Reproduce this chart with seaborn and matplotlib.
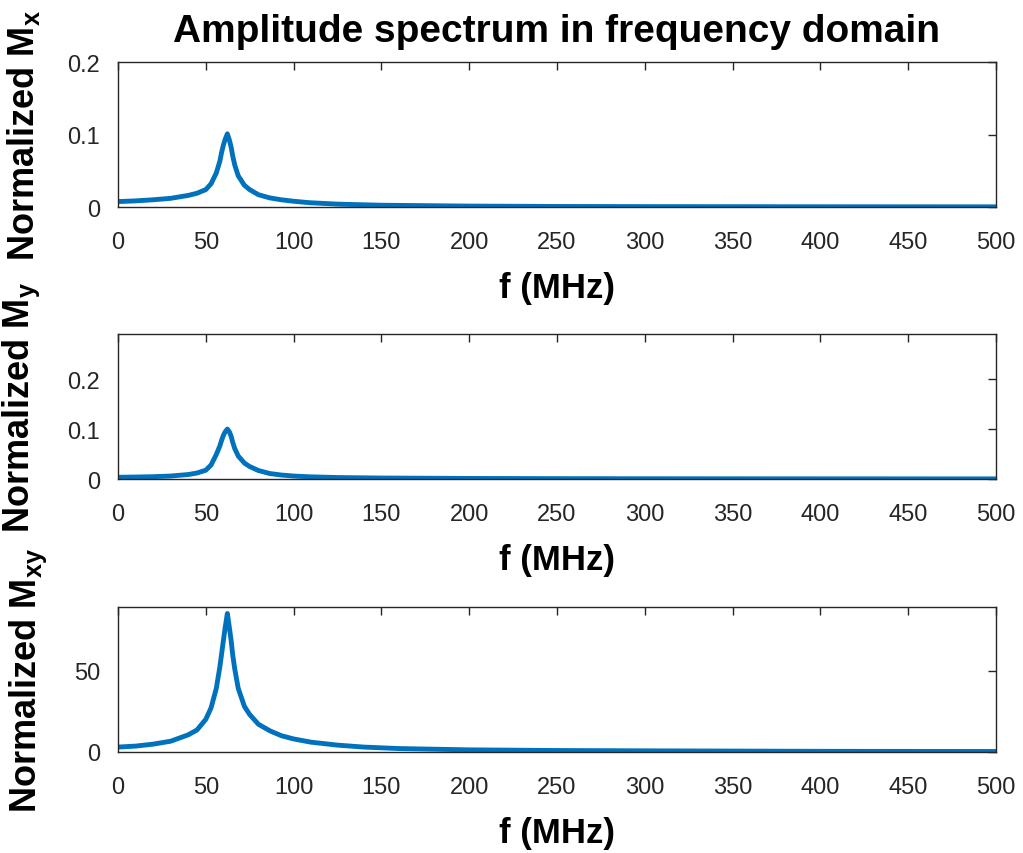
import matplotlib
matplotlib.use("Agg")
import matplotlib.pyplot as plt
import seaborn as sns
import pandas as pd

# Frequency samples (MHz) and normalized amplitudes for each component
freq_x = [0, 10, 20, 30, 40, 45, 50, 53, 56, 58, 59, 60, 61, 62.3, 63.5, 64.5, 65.3, 66.5,
          68.5, 72, 75, 80, 86.5, 93, 100, 109, 125, 150, 200, 250, 300, 400, 500]
mag_x = [0.0075, 0.0085, 0.010, 0.012, 0.016, 0.019, 0.024, 0.032, 0.047, 0.063, 0.075, 0.085,
         0.093, 0.101, 0.092, 0.082, 0.071, 0.058, 0.043, 0.030, 0.024, 0.017, 0.0126, 0.010,
         0.008, 0.006, 0.004, 0.0025, 0.0013, 0.0008, 0.0006, 0.0004, 0.0003]

freq_y = [0, 10, 20, 30, 40, 45, 50, 53, 56, 58, 59, 60, 61, 62.3, 63.5, 64.5, 65.3, 66.5,
          68.5, 72, 75, 80, 86.5, 93, 100, 109, 125, 150, 200, 250, 300, 400, 500]
mag_y = [0.0035, 0.0040, 0.0047, 0.0060, 0.0090, 0.012, 0.0176, 0.028, 0.049, 0.066, 0.077, 0.087,
         0.094, 0.100, 0.094, 0.085, 0.074, 0.061, 0.046, 0.032, 0.025, 0.017, 0.011, 0.008,
         0.006, 0.0045, 0.003, 0.002, 0.0012, 0.0008, 0.0006, 0.0004, 0.0003]

freq_xy = [0, 10, 20, 30, 40, 45, 50, 53, 56, 58, 59, 60, 61, 62.3, 63.5, 64.5, 65.3, 66.5,
           68.5, 72, 75, 80, 86.5, 93, 100, 110, 125, 140, 160, 200, 250, 300, 400, 500]
mag_xy = [3.0, 3.6, 4.8, 6.6, 10.5, 13.5, 20, 27, 39, 52, 60, 68, 76, 85, 76, 68, 60, 51,
          39, 28, 23, 17, 13, 10, 8, 6, 4.2, 3.0, 2.1, 1.3, 0.9, 0.7, 0.4, 0.3]

y_labels = [r"Normalized $\mathbf{M_x}$", r"Normalized $\mathbf{M_y}$",
            r"Normalized $\mathbf{M_{xy}}$"]
y_limits = [(0, 0.2), (0, 0.29), (0, 89)]
y_ticks = [[0, 0.1, 0.2], [0, 0.1, 0.2], [0, 50]]
y_ticklabels = [["0", "0.1", "0.2"], ["0", "0.1", "0.2"], ["0", "50"]]
x_ticks = [0, 50, 100, 150, 200, 250, 300, 350, 400, 450, 500]
title = "Amplitude spectrum in frequency domain"

sns.set_style("white")
plt.rcParams["font.family"] = ["Liberation Sans", "DejaVu Sans"]
plt.rcParams["mathtext.fontset"] = "custom"
plt.rcParams["mathtext.rm"] = "Liberation Sans"
plt.rcParams["mathtext.bf"] = "Liberation Sans:bold"

line_color = "#0072BD"
axis_color = "#262626"

fig = plt.figure(figsize=(10.23, 8.54), dpi=100)
left, width, height = 0.1153, 0.8583, 0.1698
bottoms = [0.7564, 0.4379, 0.1183]

series = [(freq_x, mag_x), (freq_y, mag_y), (freq_xy, mag_xy)]
for i, (f, m) in enumerate(series):
    ax = fig.add_axes([left, bottoms[i], width, height])
    df = pd.DataFrame({"f": f, "m": m})
    sns.lineplot(data=df, x="f", y="m", ax=ax, color=line_color, linewidth=3.5,
                 estimator=None, sort=False)
    ax.set_xlim(0, 500)
    ax.set_ylim(*y_limits[i])
    ax.set_xticks(x_ticks)
    ax.set_yticks(y_ticks[i])
    ax.set_yticklabels(y_ticklabels[i])
    ax.tick_params(direction="in", length=6, width=1, colors=axis_color,
                   labelsize=17, top=True, right=True)
    ax.tick_params(axis="x", pad=17)
    ax.tick_params(axis="y", pad=13)
    for s in ax.spines.values():
        s.set_color(axis_color)
        s.set_linewidth(1.0)
    ax.set_xlabel("f (MHz)", fontsize=25, fontweight="bold", color="black", labelpad=13)
    ax.set_ylabel(y_labels[i], fontsize=26, fontweight="bold", color="black", labelpad=18)
    if i == 0:
        ax.set_title(title, fontsize=28, fontweight="bold", color="black", pad=15)

fig.savefig("out.png", dpi=100, facecolor="white")
